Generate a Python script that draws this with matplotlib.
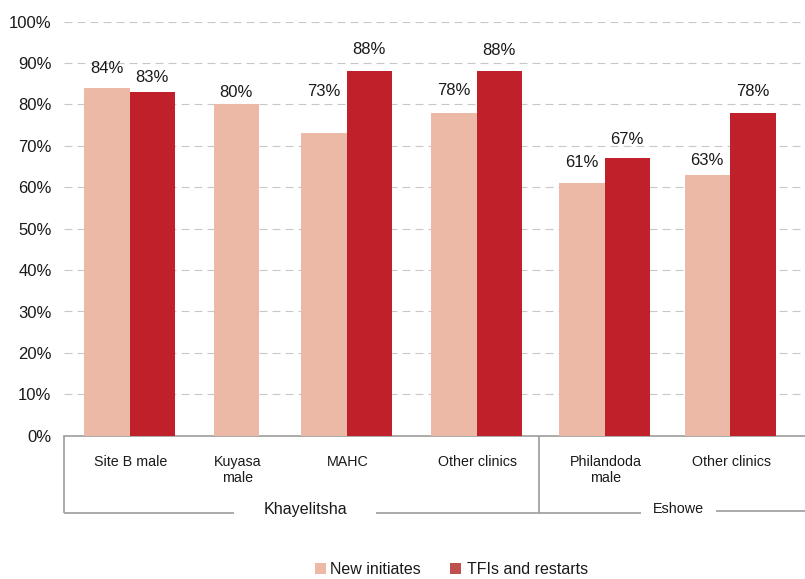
import matplotlib
matplotlib.use("Agg")
import matplotlib.pyplot as plt
from matplotlib.patches import Rectangle
from matplotlib.ticker import FuncFormatter

plt.rcParams["font.family"] = ["Liberation Sans", "DejaVu Sans"]

# ---- data -------------------------------------------------------------
clinics = ["Site B male", "Kuyasa\nmale", "MAHC", "Other clinics",
           "Philandoda\nmale", "Other clinics"]
regions = ["Khayelitsha", "Eshowe"]
region_sizes = [4, 2]
new_initiates = [84, 80, 73, 78, 61, 63]
tfi_restarts = [83, None, 88, 88, 67, 78]
series_names = ["New initiates", "TFIs and restarts"]
y_ticks = [0, 10, 20, 30, 40, 50, 60, 70, 80, 90, 100]

# ---- layout (figure pixels) ------------------------------------------
W, H = 805, 579
ax_left, ax_right = 64, 805
y_zero, y_full = 435.7, 21.7
group_x = [129.5, 259, 346.5, 476.5, 604.5, 730]
bar_w = 45.5
# height of each value label's baseline above its bar, in percentage points
lift_new = [3.6, 1.8, 9.0, 4.2, 3.8, 2.3]
lift_tfi = [2.5, None, 4.1, 3.9, 3.4, 4.1]

c_new = "#EDB9A7"
c_tfi = "#C0202A"
c_tfi_key = "#C0504D"
c_box = "#9C9C9C"
c_grid = "#C8C8C8"
c_text = "#1A1A1A"

fig = plt.figure(figsize=(W / 100, H / 100), dpi=100)
ax = fig.add_axes([ax_left / W, 1 - y_zero / H,
                   (ax_right - ax_left) / W, (y_zero - y_full) / H])
ax.set_xlim(ax_left, ax_right)
ax.set_ylim(0, 100)

for i, gx in enumerate(group_x):
    ax.bar(gx - bar_w / 2, new_initiates[i], width=bar_w, color=c_new,
           zorder=3, linewidth=0)
    ax.text(gx - bar_w / 2, new_initiates[i] + lift_new[i],
            f"{new_initiates[i]}%", ha="center", va="baseline",
            fontsize=12, color=c_text)
    if tfi_restarts[i] is not None:
        ax.bar(gx + bar_w / 2, tfi_restarts[i], width=bar_w, color=c_tfi,
               zorder=3, linewidth=0)
        ax.text(gx + bar_w / 2, tfi_restarts[i] + lift_tfi[i],
                f"{tfi_restarts[i]}%", ha="center", va="baseline",
                fontsize=12, color=c_text)

ax.set_yticks(y_ticks)
ax.yaxis.set_major_formatter(FuncFormatter(lambda v, p: f"{v:.0f}%"))
ax.tick_params(axis="y", length=0, pad=9, labelsize=12, labelcolor=c_text)
ax.set_xticks([])
for yv in y_ticks[1:]:
    ax.axhline(yv, color=c_grid, lw=0.8, linestyle=(0, (7.2, 4.5)), zorder=1)
for s in ("top", "right", "left"):
    ax.spines[s].set_visible(False)
ax.spines["bottom"].set_color(c_box)
ax.spines["bottom"].set_linewidth(1.2)

# ---- category boxes, labels and key, drawn in figure pixels -----------
ov = fig.add_axes([0, 0, 1, 1], facecolor="none")
ov.set_xlim(0, W)
ov.set_ylim(H, 0)
ov.axis("off")

box_bottom = 512.5
line_kw = dict(color=c_box, lw=1.2, solid_capstyle="butt")
sep_x = 539
ov.plot([ax_left, ax_left], [y_zero, box_bottom], **line_kw)
ov.plot([sep_x, sep_x], [y_zero, box_bottom], **line_kw)
ov.plot([ax_left, 234], [box_bottom, box_bottom], **line_kw)
ov.plot([376, sep_x], [box_bottom, box_bottom], **line_kw)
ov.plot([sep_x, 641], [box_bottom, box_bottom], **line_kw)
ov.plot([716, W], [box_bottom - 1.5, box_bottom - 1.5], **line_kw)

for i, gx in enumerate(group_x):
    lx = gx if tfi_restarts[i] is not None else gx - bar_w / 2
    for j, line in enumerate(clinics[i].split("\n")):
        ov.text(lx + 1, 466 + 16 * j, line, ha="center", va="baseline",
                fontsize=10.3, color=c_text)

ov.text(305.5, 514, regions[0], ha="center", va="baseline",
        fontsize=11.6, color=c_text)
ov.text(678.5, 513, regions[1], ha="center", va="baseline",
        fontsize=10.4, color=c_text)

# key
key_y = 574
for (x0, col, name, tx) in [(315, c_new, series_names[0], 330),
                            (450, c_tfi_key, series_names[1], 467)]:
    ov.add_patch(Rectangle((x0, 563), 10.5, 10.5, color=col, lw=0))
    ov.text(tx, key_y, name, ha="left", va="baseline", fontsize=11.5,
            color=c_text)

fig.savefig("out.png", dpi=100)
